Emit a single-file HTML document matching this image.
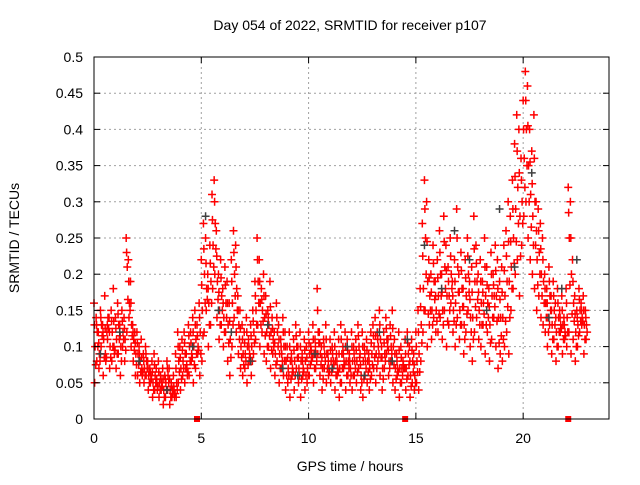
<!DOCTYPE html>
<html><head><meta charset="utf-8"><style>
body{margin:0;background:#fff;}
svg text{font-family:"Liberation Sans",sans-serif;font-size:14px;fill:#000;}
</style></head><body>
<svg width="640" height="480" viewBox="0 0 640 480">
<rect width="640" height="480" fill="#fff"/>
<text x="350" y="30" text-anchor="middle">Day 054 of 2022, SRMTID for receiver p107</text>
<g id="grid"></g>
<g id="pts"></g>
<rect x="94" y="57" width="515" height="362" fill="none" stroke="#000" stroke-width="1"/>
<g id="ticks"></g>
<text x="350" y="471" text-anchor="middle">GPS time / hours</text>
<text transform="translate(19,238) rotate(-90)" text-anchor="middle">SRMTID / TECUs</text>
</svg>
<script>
const xTicks=[0,5,10,15,20];
const yTicks=[0,0.05,0.1,0.15,0.2,0.25,0.3,0.35,0.4,0.45,0.5];
const yTickLabels=["0","0.05","0.1","0.15","0.2","0.25","0.3","0.35","0.4","0.45","0.5"];
const seriesHigh=[.16,.14,.12,.15,.13,.17,.12,.14,.15,.18,.14,.16,.13,.15,.14,.25,.22,.19,.13,.12,.12,.10,.11,.09,.10,.08,.07,.08,.09,.07,.08,.06,.07,.06,.08,.07,.05,.06,.09,.12,.10,.11,.12,.09,.13,.12,.14,.15,.13,.16,.22,.27,.25,.20,.24,.31,.33,.26,.20,.22,.18,.21,.19,.16,.22,.26,.24,.17,.15,.13,.12,.14,.11,.13,.15,.19,.25,.22,.18,.20,.17,.15,.19,.14,.12,.16,.13,.11,.14,.12,.10,.12,.09,.11,.13,.10,.12,.09,.11,.10,.12,.10,.13,.11,.18,.12,.10,.11,.13,.09,.11,.10,.12,.09,.11,.13,.10,.12,.11,.09,.12,.10,.11,.13,.09,.12,.10,.11,.09,.12,.13,.14,.12,.15,.10,.12,.14,.11,.13,.15,.11,.09,.12,.10,.08,.11,.12,.10,.11,.09,.12,.15,.18,.27,.33,.30,.22,.20,.24,.19,.22,.26,.20,.28,.24,.21,.25,.19,.22,.29,.20,.23,.18,.22,.25,.19,.21,.28,.24,.20,.22,.19,.25,.21,.18,.23,.20,.24,.22,.19,.21,.24,.26,.30,.28,.33,.38,.42,.40,.36,.44,.48,.46,.40,.37,.42,.30,.29,.27,.25,.20,.18,.21,.17,.19,.16,.18,.15,.17,.14,.18,.32,.30,.22,.17,.15,.18,.16,.17,.15];
const seriesMid=[.10,.12,.09,.13,.11,.08,.14,.10,.12,.09,.11,.13,.10,.12,.11,.21,.16,.13,.11,.09,.09,.08,.06,.07,.08,.06,.06,.05,.06,.04,.05,.05,.04,.05,.06,.04,.04,.03,.05,.08,.07,.08,.09,.06,.10,.09,.10,.11,.10,.12,.15,.20,.18,.16,.19,.24,.27,.19,.15,.17,.14,.16,.13,.11,.16,.20,.18,.13,.10,.09,.09,.10,.09,.10,.12,.15,.19,.16,.15,.14,.12,.13,.12,.11,.09,.12,.09,.09,.10,.08,.07,.08,.07,.08,.10,.07,.08,.07,.08,.07,.09,.09,.09,.09,.12,.09,.07,.09,.09,.07,.08,.08,.08,.07,.07,.09,.08,.08,.08,.07,.08,.08,.08,.10,.06,.08,.08,.08,.07,.09,.10,.09,.10,.11,.07,.09,.11,.08,.10,.10,.07,.07,.07,.07,.07,.07,.09,.06,.08,.06,.08,.09,.13,.18,.25,.19,.17,.15,.19,.15,.17,.20,.15,.21,.17,.17,.20,.15,.16,.21,.15,.18,.13,.17,.20,.14,.14,.19,.19,.15,.16,.16,.17,.16,.13,.17,.17,.17,.14,.14,.14,.17,.19,.19,.21,.25,.29,.32,.28,.30,.36,.40,.35,.31,.28,.30,.22,.23,.20,.19,.16,.14,.17,.13,.15,.12,.14,.13,.13,.12,.14,.25,.20,.16,.12,.13,.15,.14,.13,.13];
const seriesLow=[.05,.08,.07,.10,.06,.09,.11,.07,.08,.10,.07,.09,.06,.10,.08,.12,.14,.10,.08,.06,.06,.05,.07,.05,.06,.04,.05,.03,.04,.05,.03,.04,.02,.03,.04,.02,.03,.04,.03,.05,.04,.06,.05,.07,.06,.08,.05,.07,.09,.06,.08,.12,.15,.10,.13,.18,.20,.14,.11,.13,.10,.12,.08,.06,.10,.14,.12,.09,.07,.06,.07,.05,.08,.06,.09,.11,.13,.10,.12,.09,.08,.10,.07,.09,.06,.08,.05,.07,.06,.04,.05,.03,.06,.04,.07,.05,.03,.06,.04,.05,.06,.08,.05,.07,.09,.06,.04,.07,.05,.06,.05,.07,.04,.06,.03,.05,.07,.04,.06,.05,.04,.06,.05,.07,.04,.03,.06,.05,.04,.06,.07,.05,.08,.06,.04,.07,.09,.06,.08,.05,.04,.06,.03,.05,.07,.04,.06,.03,.05,.04,.05,.04,.08,.12,.15,.10,.13,.11,.14,.12,.12,.14,.11,.15,.10,.13,.16,.12,.10,.14,.11,.13,.09,.12,.15,.10,.08,.12,.14,.11,.10,.13,.09,.12,.08,.11,.14,.10,.07,.09,.08,.10,.12,.09,.15,.18,.20,.22,.17,.24,.28,.30,.25,.22,.20,.18,.15,.17,.14,.13,.12,.10,.13,.09,.11,.08,.10,.12,.09,.11,.10,.12,.09,.11,.08,.10,.12,.13,.09,.11];
const grayTimes=[0.3,1.2,2.1,3.4,4.6,5.2,5.8,6.4,7.3,8.1,8.8,9.5,10.3,11.1,11.8,12.6,13.3,13.9,14.6,15.4,16.2,16.8,17.5,18.3,18.9,19.6,20.4,21.2,21.8,22.5];
const grayValues=[.09,.12,.08,.04,.10,.28,.15,.12,.08,.13,.07,.06,.09,.07,.10,.06,.12,.08,.11,.24,.18,.26,.22,.15,.29,.21,.34,.14,.18,.22];
const zeroTimes=[4.8,14.5,22.1];
const zeroValues=[0,0,0];

const X0=94,X1=609,Y0=419,Y1=57;
const xs=t=>X0+(X1-X0)*t/24;
const ys=v=>Y0-(Y0-Y1)*v/0.5;
const NS="http://www.w3.org/2000/svg";
const mk=(tag,at,par)=>{const e=document.createElementNS(NS,tag);for(const k in at)e.setAttribute(k,at[k]);par.appendChild(e);return e;};
const grid=document.getElementById('grid'),ticks=document.getElementById('ticks'),pts=document.getElementById('pts');
xTicks.forEach(t=>{const x=xs(t);
 if(t>0){const g=mk('line',{x1:x,y1:Y0,x2:x,y2:Y1,stroke:'#a0a0a0','stroke-dasharray':'2,3'},grid);
 
 }
 const a=mk('line',{x1:x,y1:Y0,x2:x,y2:Y0-6,stroke:'#000'},ticks);
 
 
 const b=mk('line',{x1:x,y1:Y1,x2:x,y2:Y1+6,stroke:'#000'},ticks);
 
 
 const l=mk('text',{x:x,y:443,'text-anchor':'middle'},ticks);l.textContent=t;
 
 
});
yTicks.forEach((v,i)=>{const y=ys(v);
 if(v>0&&v<0.5){const g=mk('line',{x1:X0,y1:y,x2:X1,y2:y,stroke:'#a0a0a0','stroke-dasharray':'2,3'},grid);
 
 }
 const a=mk('line',{x1:X0,y1:y,x2:X0+6,y2:y,stroke:'#000'},ticks);
 
 
 const b=mk('line',{x1:X1,y1:y,x2:X1-6,y2:y,stroke:'#000'},ticks);
 
 
 const l=mk('text',{x:83,y:y+5,'text-anchor':'end'},ticks);l.textContent=yTickLabels[i];
 
 
});
function plus(t,v,col){const x=xs(t),y=ys(v);
 const p=mk('path',{d:`M${x-4},${y}h8M${x},${y-4}v8`,stroke:col,'stroke-width':1.5,fill:'none'},pts);
 
 }
seriesHigh.forEach((v,i)=>plus(i*0.1,v,'#ff0000'));
seriesMid.forEach((v,i)=>plus(i*0.1+0.05,v,'#ff0000'));
seriesLow.forEach((v,i)=>plus(i*0.1+0.03,v,'#ff0000'));
seriesMid.forEach((v,i)=>plus(i*0.1+0.08,(v+seriesLow[i])/2,'#ff0000'));
seriesHigh.forEach((v,i)=>plus(i*0.1+0.02,(v+seriesMid[i])/2,'#ff0000'));
grayTimes.forEach((t,i)=>plus(t,grayValues[i],'#404040'));
zeroTimes.forEach((t,i)=>{const r=mk('rect',{x:xs(t)-3,y:ys(zeroValues[i])-3,width:6,height:6,fill:'#ff0000'},pts);
 
 });
</script>
</body></html>
